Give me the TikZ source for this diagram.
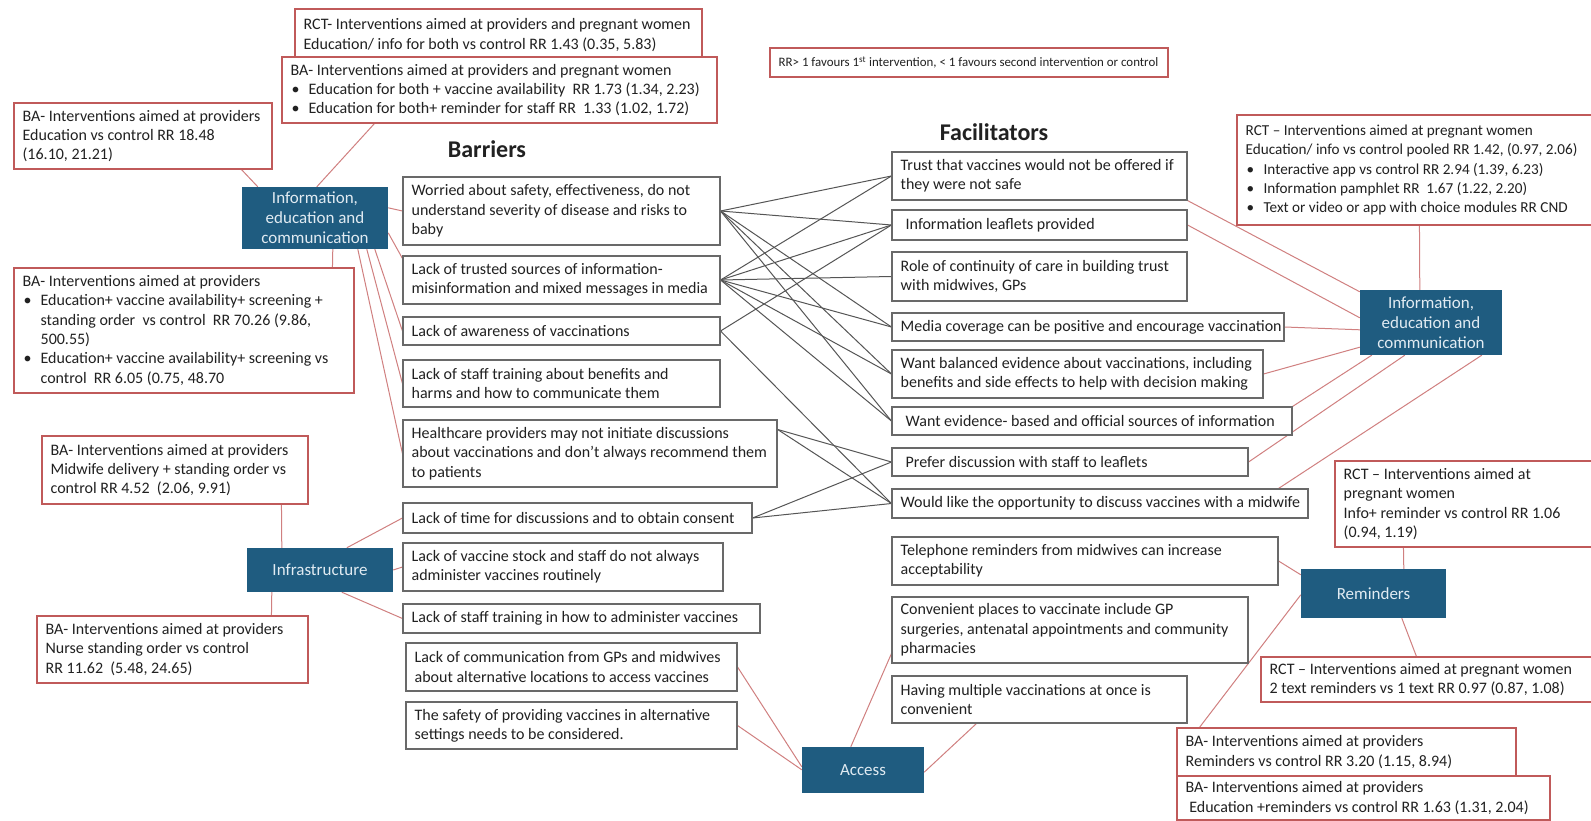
\documentclass[tikz,border=0pt]{standalone}
\usepackage{fontspec}
\setmainfont{Carlito}
\usetikzlibrary{backgrounds}
\definecolor{bluefill}{RGB}{31,92,128}
\definecolor{bluetext}{RGB}{225,235,242}
\definecolor{redline}{RGB}{208,128,128}
\definecolor{redborder}{RGB}{192,90,90}
\definecolor{grayborder}{RGB}{105,105,105}
\definecolor{grayline}{RGB}{85,85,85}
\definecolor{maintext}{RGB}{33,33,33}
\newcommand\bodyfont{\fontsize{16pt}{19.3pt}\selectfont}
\newcommand\bluefont{\fontsize{17pt}{20pt}\selectfont}
\newcommand\bitem{\hspace*{1pt}\makebox[17pt][l]{\textbullet}}
\newcommand\bcont{\hspace*{18pt}}
\newcommand\mkbox[8][]{%
 \pgfmathsetmacro\bxw{#5-#3}%
 \pgfmathsetmacro\bxh{#6-#4}%
 \pgfmathsetmacro\bxc{(#3+#5)/2}%
 \pgfmathsetmacro\byc{-(#4+#6)/2}%
 \node[#7, minimum width=\bxw pt, minimum height=\bxh pt] (#2) at (\bxc pt,\byc pt) {};%
 \node[txt,#1] (#2t) at ([xshift=9pt]#2.west) {#8};%
}
\newcommand\mkblue[6]{%
 \pgfmathsetmacro\bxw{#4-#2}%
 \pgfmathsetmacro\bxh{#5-#3}%
 \pgfmathsetmacro\bxc{(#2+#4)/2}%
 \pgfmathsetmacro\byc{-(#3+#5)/2}%
 \node[bbox, minimum width=\bxw pt, minimum height=\bxh pt] (#1) at (\bxc pt,\byc pt) {#6};%
}
\begin{document}
\begin{tikzpicture}[x=1pt,y=1pt,
 gbox/.style={draw=grayborder, line width=1.1pt, fill=white, inner sep=0pt},
 rbox/.style={draw=redborder, line width=1.1pt, fill=white, inner sep=0pt},
 bbox/.style={fill=bluefill, draw=none, text=bluetext, align=center, font=\bluefont, inner sep=0pt},
 txt/.style={anchor=west, align=left, inner sep=0pt, font=\bodyfont, text=maintext},
 rl/.style={draw=redline, line width=1pt},
 gl/.style={draw=grayline, line width=1pt},
 head/.style={font=\fontsize{24pt}{28pt}\selectfont\bfseries, text=maintext}]
\useasboundingbox (0,0) rectangle (1591,-821);

% evidence boxes
\mkbox{E1}{295}{9}{702}{61}{rbox}{RCT- Interventions aimed at providers and pregnant women\\Education/ info for both vs control RR 1.43 (0.35, 5.83)}
\mkbox{E2}{282}{57}{717}{123}{rbox}{BA- Interventions aimed at providers and pregnant women\\\bitem Education for both + vaccine availability\ \ RR 1.73 (1.34, 2.23)\\\bitem Education for both+ reminder for staff RR\ \ 1.33 (1.02, 1.72)}
\mkbox{E3}{14}{103}{272}{169}{rbox}{BA- Interventions aimed at providers\\Education vs control RR 18.48\\(16.10, 21.21)}
\mkbox{E4}{14}{268}{354}{393}{rbox}{BA- Interventions aimed at providers\\\bitem Education+ vaccine availability+ screening +\\\bcont standing order\ \ vs control\ \ RR 70.26 (9.86,\\\bcont 500.55)\\\bitem Education+ vaccine availability+ screening vs\\\bcont control\ \ RR 6.05 (0.75, 48.70}
\mkbox{E5}{42}{436}{308}{504}{rbox}{BA- Interventions aimed at providers\\Midwife delivery + standing order vs\\control RR 4.52\ \ (2.06, 9.91)}
\mkbox{E6}{37}{616}{308}{683}{rbox}{BA- Interventions aimed at providers\\Nurse standing order vs control\\RR 11.62\ \ (5.48, 24.65)}
\mkbox[font=\fontsize{12.9pt}{15pt}\selectfont]{E7}{770}{48}{1168}{77}{rbox}{RR> 1 favours 1\textsuperscript{st} intervention, < 1 favours second intervention or control}
\mkbox[font=\fontsize{15.2pt}{19.3pt}\selectfont]{E8}{1237}{115}{1600}{225}{rbox}{RCT – Interventions aimed at pregnant women\\Education/ info vs control pooled RR 1.42, (0.97, 2.06)\\\bitem Interactive app vs control RR 2.94 (1.39, 6.23)\\\bitem Information pamphlet RR\ \ 1.67 (1.22, 2.20)\\\bitem Text or video or app with choice modules RR CND}
\mkbox{E9}{1335}{461}{1600}{547}{rbox}{RCT – Interventions aimed at\\pregnant women\\Info+ reminder vs control RR 1.06\\(0.94, 1.19)}
\mkbox{E10}{1261}{657}{1600}{702}{rbox}{RCT – Interventions aimed at pregnant women\\2 text reminders vs 1 text RR 0.97 (0.87, 1.08)}
\mkbox{E11}{1177}{728}{1516}{776}{rbox}{BA- Interventions aimed at providers\\Reminders vs control RR 3.20 (1.15, 8.94)}
\mkbox{E12}{1177}{776}{1550}{820}{rbox}{BA- Interventions aimed at providers\\\ Education +reminders vs control RR 1.63 (1.31, 2.04)}

% category boxes
\mkblue{IL}{242}{187}{388}{249}{Information,\\education and\\communication}
\mkblue{IN}{247}{548}{393}{592}{Infrastructure}
\mkblue{IR}{1360}{290}{1502}{355}{Information,\\education and\\communication}
\mkblue{RM}{1301}{569}{1446}{618}{Reminders}
\mkblue{AC}{802}{747}{924}{793}{Access}

% headings
\node[head] (hb) at (487,-149) {Barriers};
\node[head] (hf) at (994,-132) {Facilitators};

% barriers
\mkbox{B1}{403}{177}{720}{245}{gbox}{Worried about safety, effectiveness, do not\\understand severity of disease and risks to\\baby}
\mkbox{B2}{403}{256}{720}{304}{gbox}{Lack of trusted sources of information-\\misinformation and mixed messages in media}
\mkbox{B3}{403}{317}{720}{345}{gbox}{Lack of awareness of vaccinations}
\mkbox{B4}{403}{360}{720}{407}{gbox}{Lack of staff training about benefits and\\harms and how to communicate them}
\mkbox{B5}{403}{420}{777}{487}{gbox}{Healthcare providers may not initiate discussions\\about vaccinations and don’t always recommend them\\to patients}
\mkbox{B6}{403}{503}{752}{533}{gbox}{Lack of time for discussions and to obtain consent}
\mkbox{B7}{403}{543}{723}{591}{gbox}{Lack of vaccine stock and staff do not always\\administer vaccines routinely}
\mkbox{B8}{403}{604}{760}{633}{gbox}{Lack of staff training in how to administer vaccines}
\mkbox{B9}{406}{643}{737}{691}{gbox}{Lack of communication from GPs and midwives\\about alternative locations to access vaccines}
\mkbox{B10}{406}{702}{737}{749}{gbox}{The safety of providing vaccines in alternative\\settings needs to be considered.}

% facilitators
\mkbox{F1}{892}{152}{1187}{200}{gbox}{Trust that vaccines would not be offered if\\they were not safe}
\mkbox{F2}{892}{210}{1187}{240}{gbox}{\hspace*{5pt}Information leaflets provided}
\mkbox{F3}{892}{252}{1187}{301}{gbox}{Role of continuity of care in building trust\\with midwives, GPs}
\mkbox{F4}{892}{313}{1284}{341}{gbox}{Media coverage can be positive and encourage vaccination}
\mkbox{F5}{892}{350}{1263}{398}{gbox}{Want balanced evidence about vaccinations, including\\benefits and side effects to help with decision making}
\mkbox{F6}{892}{407}{1292}{435}{gbox}{\hspace*{5pt}Want evidence- based and official sources of information}
\mkbox{F7}{892}{448}{1248}{476}{gbox}{\hspace*{5pt}Prefer discussion with staff to leaflets}
\mkbox{F8}{892}{489}{1308}{518}{gbox}{Would like the opportunity to discuss vaccines with a midwife}
\mkbox{F9}{892}{537}{1278}{585}{gbox}{Telephone reminders from midwives can increase\\acceptability}
\mkbox{F10}{892}{597}{1248}{663}{gbox}{Convenient places to vaccinate include GP\\surgeries, antenatal appointments and community\\pharmacies}
\mkbox{F11}{892}{676}{1187}{723}{gbox}{Having multiple vaccinations at once is\\convenient}

\begin{scope}[on background layer]
\fill[white] (0,0) rectangle (1591,-821);
% left information box
\draw[rl] ([xshift=16pt]IL.north west) -- ([xshift=228pt]E3.south west);
\draw[rl] ([xshift=75pt]IL.north west) -- ([xshift=93pt]E2.south west);
\draw[rl] ([xshift=91pt]IL.south west) -- ([xshift=319pt]E4.north west);
\draw[rl] ([yshift=-21pt]IL.north east) -- (B1.west);
\draw[rl] ([yshift=-46pt]IL.north east) -- ([yshift=-3pt]B2.north west);
\draw[rl] ([xshift=133pt]IL.south west) -- (B3.west);
\draw[rl] ([xshift=125pt]IL.south west) -- (B4.west);
\draw[rl] ([xshift=116pt]IL.south west) -- (B5.west);
% infrastructure
\draw[rl] ([xshift=240pt]E5.south west) -- ([xshift=35pt]IN.north west);
\draw[rl] ([xshift=25pt]IN.south west) -- ([xshift=235pt]E6.north west);
\draw[rl] ([xshift=100pt]IN.north west) -- (B6.west);
\draw[rl] (IN.east) -- (B7.west);
\draw[rl] ([xshift=95pt]IN.south west) -- (B8.west);
% access
\draw[rl] (B9.east) -- ([yshift=-20pt]AC.north west);
\draw[rl] (B10.east) -- ([yshift=-23pt]AC.north west);
\draw[rl] ([yshift=10pt]F10.south west) -- ([xshift=49pt]AC.north west);
\draw[rl] ([xshift=85pt]F11.south west) -- ([yshift=21pt]AC.south east);
% reminders
\draw[rl] ([xshift=69pt]E9.south west) -- ([xshift=103pt]RM.north west);
\draw[rl] ([xshift=101pt]RM.south west) -- ([xshift=156pt]E10.north west);
\draw[rl] (F9.east) -- ([yshift=-6pt]RM.north west);
\draw[rl] ([yshift=-26pt]RM.north west) -- ([xshift=23pt]E11.north west);
% right information box
\draw[rl] ([xshift=183pt]E8.south west) -- ([xshift=60pt]IR.north west);
\draw[rl] (F1.south east) -- ([yshift=-2pt]IR.north west);
\draw[rl] (F2.east) -- ([yshift=-28pt]IR.north west);
\draw[rl] (F4.east) -- ([yshift=-40pt]IR.north west);
\draw[rl] (F5.east) -- ([yshift=8pt]IR.south west);
\draw[rl] (F6.north east) -- ([xshift=12pt]IR.south west);
\draw[rl] (F7.east) -- ([xshift=45pt]IR.south west);
\draw[rl] ([xshift=-30pt]F8.north east) -- ([xshift=122pt]IR.south west);
% barriers to facilitators
\foreach \f in {F1,F2,F4,F5,F6} \draw[gl] (B1.east) -- (\f.west);
\foreach \f in {F1,F2,F3,F4,F5,F6} \draw[gl] (B2.east) -- (\f.west);
\foreach \f in {F2,F8} \draw[gl] (B3.east) -- (\f.west);
\foreach \f in {F7,F8} \draw[gl] ([yshift=-10pt]B5.north east) -- (\f.west);
\foreach \f in {F7,F8} \draw[gl] (B6.east) -- (\f.west);
\end{scope}
\end{tikzpicture}
\end{document}
